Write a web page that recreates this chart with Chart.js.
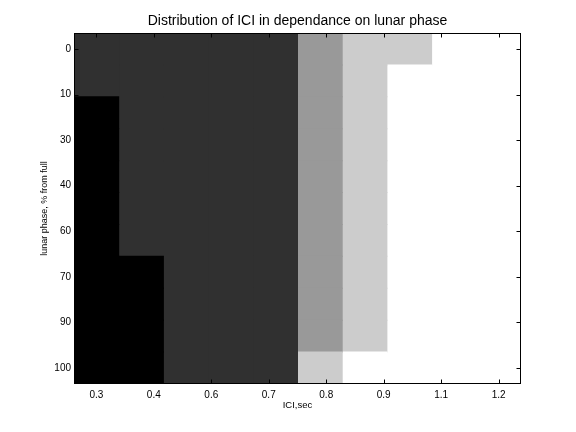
<!DOCTYPE html>
<html>
<head>
<meta charset="utf-8">
<script src="https://cdn.jsdelivr.net/npm/chart.js@4/dist/chart.umd.min.js"></script>
<style>
  html, body { margin: 0; padding: 0; background: #ffffff; }
  #wrap { width: 576px; height: 432px; }
</style>
</head>
<body>
<div id="wrap"><canvas id="c" width="576" height="432"></canvas></div>
<script>
// ---- data ----
const titleText = 'Distribution of ICI in dependance on lunar phase';
const xTitle = 'ICI,sec';
const yTitle = 'lunar phase, % from full';
// tick labels (as printed on the axes)
const xTickLabels = ['0.3', '0.4', '0.6', '0.7', '0.8', '0.9', '1.1', '1.2'];
const yTickLabels = ['0', '10', '30', '40', '60', '70', '90', '100'];
// tick positions in cell-index units (columns 1..10, rows 1..11)
const xTickPos = [1, 2.2857, 3.5714, 4.8571, 6.1429, 7.4286, 8.7143, 10];
const yTickPos = [1, 2.4286, 3.8571, 5.2857, 6.7143, 8.1429, 9.5714, 11];
// cell levels (0 = black ... 4 = white), one row per image row, top to bottom
const cellLevels = [
  [1, 1, 1, 1, 1, 2, 3, 3, 4, 4],
  [1, 1, 1, 1, 1, 2, 3, 4, 4, 4],
  [0, 1, 1, 1, 1, 2, 3, 4, 4, 4],
  [0, 1, 1, 1, 1, 2, 3, 4, 4, 4],
  [0, 1, 1, 1, 1, 2, 3, 4, 4, 4],
  [0, 1, 1, 1, 1, 2, 3, 4, 4, 4],
  [0, 1, 1, 1, 1, 2, 3, 4, 4, 4],
  [0, 0, 1, 1, 1, 2, 3, 4, 4, 4],
  [0, 0, 1, 1, 1, 2, 3, 4, 4, 4],
  [0, 0, 1, 1, 1, 2, 3, 4, 4, 4],
  [0, 0, 1, 1, 1, 3, 4, 4, 4, 4]
];

// ---- styling ----
const grayMap = ['#000000', '#303030', '#999999', '#cccccc', '#ffffff'];
const FONT = 'Liberation Sans, Arial, Helvetica, sans-serif';

const nRows = cellLevels.length;
const nCols = cellLevels[0].length;

const datasets = [];
for (let c = 0; c < nCols; c++) {
  datasets.push({
    data: cellLevels.map((row, r) => ({ y: r + 1, x: [c + 0.5, c + 1.5] })),
    backgroundColor: cellLevels.map(row => grayMap[row[c]]),
    borderWidth: 0,
    grouped: false,
    barPercentage: 1,
    categoryPercentage: 1,
    inflateAmount: 0.5
  });
}

const boxTicks = {
  id: 'boxTicks',
  afterDatasetsDraw(chart) {
    const { ctx, chartArea: a, scales } = chart;
    ctx.save();
    ctx.strokeStyle = '#000000';
    ctx.lineWidth = 1;
    const L = Math.round(a.left) + 0.5, R = Math.round(a.right) - 0.5;
    const T = Math.round(a.top) + 0.5, B = Math.round(a.bottom) - 0.5;
    ctx.strokeRect(L, T, R - L, B - T);
    const tl = 4;
    ctx.beginPath();
    xTickPos.forEach(v => {
      const px = Math.round(scales.x.getPixelForValue(v)) + 0.5;
      ctx.moveTo(px, B); ctx.lineTo(px, B - tl);
      ctx.moveTo(px, T); ctx.lineTo(px, T + tl);
    });
    yTickPos.forEach(v => {
      const py = Math.round(scales.y.getPixelForValue(v)) + 0.5;
      ctx.moveTo(L, py); ctx.lineTo(L + tl, py);
      ctx.moveTo(R, py); ctx.lineTo(R - tl, py);
    });
    ctx.stroke();
    ctx.restore();
  }
};

new Chart(document.getElementById('c'), {
  type: 'bar',
  data: { datasets },
  options: {
    indexAxis: 'y',
    responsive: false,
    animation: false,
    events: [],
    layout: { padding: { left: 0, right: 55, top: 0, bottom: 0 } },
    plugins: {
      legend: { display: false },
      tooltip: { enabled: false },
      title: {
        display: true,
        text: titleText,
        fullSize: false,
        color: '#000000',
        font: { family: FONT, size: 14, weight: 'normal', lineHeight: 1.2 },
        padding: { top: 12.6, bottom: 3.6 }
      }
    },
    scales: {
      x: {
        type: 'linear',
        min: 0.5,
        max: nCols + 0.5,
        offset: false,
        grid: { display: false, drawTicks: false },
        border: { display: false },
        afterBuildTicks: s => { s.ticks = xTickPos.map(v => ({ value: v })); },
        afterFit: s => { s.height = 48; },
        ticks: {
          autoSkip: false,
          maxRotation: 0,
          padding: 5,
          color: '#000000',
          font: { family: FONT, size: 10 },
          callback: (v, i) => xTickLabels[i]
        },
        title: {
          display: true,
          text: xTitle,
          color: '#000000',
          font: { family: FONT, size: 9.5 },
          padding: { top: 0, bottom: 21.3 }
        }
      },
      y: {
        type: 'linear',
        min: 0.5,
        max: nRows + 0.5,
        reverse: true,
        offset: false,
        grid: { display: false, drawTicks: false },
        border: { display: false },
        afterBuildTicks: s => { s.ticks = yTickPos.map(v => ({ value: v })); },
        afterFit: s => { s.width = 74; },
        ticks: {
          autoSkip: false,
          padding: 3,
          color: '#000000',
          font: { family: FONT, size: 10 },
          callback: (v, i) => yTickLabels[i]
        },
        title: {
          display: true,
          text: yTitle,
          color: '#000000',
          font: { family: FONT, size: 9 },
          padding: { top: 39.6, bottom: 0 }
        }
      }
    }
  },
  plugins: [boxTicks]
});
</script>
</body>
</html>
